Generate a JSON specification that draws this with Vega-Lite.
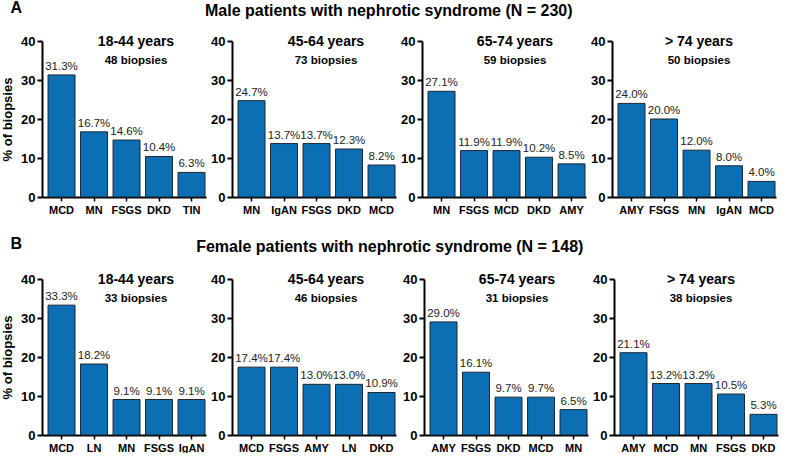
{
  "$schema": "https://vega.github.io/schema/vega-lite/v6.json",
  "padding": {"left": 1, "top": 0, "right": 2, "bottom": 0},
  "background": "white",
  "spacing": 21,
  "config": {
    "font": "Liberation Sans",
    "view": {"stroke": null},
    "title": {"color": "black", "fontWeight": "bold", "font": "Liberation Sans"},
    "axis": {"domainColor": "black", "tickColor": "black", "labelColor": "black", "titleColor": "black", "labelFont": "Liberation Sans", "titleFont": "Liberation Sans", "grid": false},
    "concat": {"spacing": 4}
  },
  "data": {"values": [
    {"p": "M1", "d": "MCD", "v": 31.3, "r": 1}, {"p": "M1", "d": "MN", "v": 16.7, "r": 2}, {"p": "M1", "d": "FSGS", "v": 14.6, "r": 3}, {"p": "M1", "d": "DKD", "v": 10.4, "r": 4}, {"p": "M1", "d": "TIN", "v": 6.3, "r": 5},
    {"p": "M2", "d": "MN", "v": 24.7, "r": 1}, {"p": "M2", "d": "IgAN", "v": 13.7, "r": 2}, {"p": "M2", "d": "FSGS", "v": 13.7, "r": 3}, {"p": "M2", "d": "DKD", "v": 12.3, "r": 4}, {"p": "M2", "d": "MCD", "v": 8.2, "r": 5},
    {"p": "M3", "d": "MN", "v": 27.1, "r": 1}, {"p": "M3", "d": "FSGS", "v": 11.9, "r": 2}, {"p": "M3", "d": "MCD", "v": 11.9, "r": 3}, {"p": "M3", "d": "DKD", "v": 10.2, "r": 4}, {"p": "M3", "d": "AMY", "v": 8.5, "r": 5},
    {"p": "M4", "d": "AMY", "v": 24.0, "r": 1}, {"p": "M4", "d": "FSGS", "v": 20.0, "r": 2}, {"p": "M4", "d": "MN", "v": 12.0, "r": 3}, {"p": "M4", "d": "IgAN", "v": 8.0, "r": 4}, {"p": "M4", "d": "MCD", "v": 4.0, "r": 5},
    {"p": "F1", "d": "MCD", "v": 33.3, "r": 1}, {"p": "F1", "d": "LN", "v": 18.2, "r": 2}, {"p": "F1", "d": "MN", "v": 9.1, "r": 3}, {"p": "F1", "d": "FSGS", "v": 9.1, "r": 4}, {"p": "F1", "d": "IgAN", "v": 9.1, "r": 5},
    {"p": "F2", "d": "MCD", "v": 17.4, "r": 1}, {"p": "F2", "d": "FSGS", "v": 17.4, "r": 2}, {"p": "F2", "d": "AMY", "v": 13.0, "r": 3}, {"p": "F2", "d": "LN", "v": 13.0, "r": 4}, {"p": "F2", "d": "DKD", "v": 10.9, "r": 5},
    {"p": "F3", "d": "AMY", "v": 29.0, "r": 1}, {"p": "F3", "d": "FSGS", "v": 16.1, "r": 2}, {"p": "F3", "d": "DKD", "v": 9.7, "r": 3}, {"p": "F3", "d": "MCD", "v": 9.7, "r": 4}, {"p": "F3", "d": "MN", "v": 6.5, "r": 5},
    {"p": "F4", "d": "AMY", "v": 21.1, "r": 1}, {"p": "F4", "d": "MCD", "v": 13.2, "r": 2}, {"p": "F4", "d": "MN", "v": 13.2, "r": 3}, {"p": "F4", "d": "FSGS", "v": 10.5, "r": 4}, {"p": "F4", "d": "DKD", "v": 5.3, "r": 5}
  ]},
  "transform": [{"calculate": "format(datum.v, '.1f') + '%'", "as": "lab"}],
  "vconcat": [
    {
      "title": {"text": "A", "anchor": "start", "frame": "bounds", "offset": -13, "dx": 9, "fontSize": 16},
      "vconcat": [{
        "title": {"text": "Male patients with nephrotic syndrome (N = 230)", "anchor": "middle", "fontSize": 16, "offset": 16},
        "hconcat": [
          {"width": 164, "height": 156, "title": {"text": "18-44 years", "subtitle": "48 biopsies", "dx": 12, "offset": -31, "fontSize": 14, "subtitleFontSize": 11.5, "subtitleFontWeight": "bold", "subtitleColor": "black", "subtitlePadding": 5.5, "anchor": "middle"},
           "transform": [{"filter": "datum.p == 'M1'"}],
           "encoding": {
             "x": {"field": "d", "type": "nominal", "sort": {"field": "r", "op": "min"}, "scale": {"paddingInner": 0.17, "paddingOuter": 0.108, "align": 0.86}, "axis": {"title": null, "labelAngle": 0, "labelFontWeight": "bold", "labelFontSize": 11, "tickSize": 4, "tickWidth": 1.5, "domainWidth": 2, "labelPadding": 3}},
             "y": {"field": "v", "type": "quantitative", "scale": {"domain": [0, 40]}, "axis": {"values": [0, 10, 20, 30, 40], "title": "% of biopsies", "titleFontSize": 13, "titleFontWeight": "bold", "titlePadding": 6, "labelFontWeight": "bold", "labelFontSize": 13, "tickSize": 5, "tickWidth": 2, "domainWidth": 2, "labelPadding": 2}}
           },
           "layer": [
             {"mark": {"type": "bar", "fill": "#0c6fb3", "stroke": "#1b2733", "strokeWidth": 1}},
             {"mark": {"type": "text", "dy": -8, "fontSize": 11.5, "color": "#222222"}, "encoding": {"text": {"field": "lab"}}}
           ]},
          {"width": 164, "height": 156, "title": {"text": "45-64 years", "subtitle": "73 biopsies", "dx": 12, "offset": -31, "fontSize": 14, "subtitleFontSize": 11.5, "subtitleFontWeight": "bold", "subtitleColor": "black", "subtitlePadding": 5.5, "anchor": "middle"},
           "transform": [{"filter": "datum.p == 'M2'"}],
           "encoding": {
             "x": {"field": "d", "type": "nominal", "sort": {"field": "r", "op": "min"}, "scale": {"paddingInner": 0.17, "paddingOuter": 0.108, "align": 0.86}, "axis": {"title": null, "labelAngle": 0, "labelFontWeight": "bold", "labelFontSize": 11, "tickSize": 4, "tickWidth": 1.5, "domainWidth": 2, "labelPadding": 3}},
             "y": {"field": "v", "type": "quantitative", "scale": {"domain": [0, 40]}, "axis": {"values": [0, 10, 20, 30, 40], "title": null, "labelFontWeight": "bold", "labelFontSize": 13, "tickSize": 5, "tickWidth": 2, "domainWidth": 2, "labelPadding": 2}}
           },
           "layer": [
             {"mark": {"type": "bar", "fill": "#0c6fb3", "stroke": "#1b2733", "strokeWidth": 1}},
             {"mark": {"type": "text", "dy": -8, "fontSize": 11.5, "color": "#222222"}, "encoding": {"text": {"field": "lab"}}}
           ]},
          {"width": 164, "height": 156, "title": {"text": "65-74 years", "subtitle": "59 biopsies", "dx": 11, "offset": -31, "fontSize": 14, "subtitleFontSize": 11.5, "subtitleFontWeight": "bold", "subtitleColor": "black", "subtitlePadding": 5.5, "anchor": "middle"},
           "transform": [{"filter": "datum.p == 'M3'"}],
           "encoding": {
             "x": {"field": "d", "type": "nominal", "sort": {"field": "r", "op": "min"}, "scale": {"paddingInner": 0.17, "paddingOuter": 0.108, "align": 0.86}, "axis": {"title": null, "labelAngle": 0, "labelFontWeight": "bold", "labelFontSize": 11, "tickSize": 4, "tickWidth": 1.5, "domainWidth": 2, "labelPadding": 3}},
             "y": {"field": "v", "type": "quantitative", "scale": {"domain": [0, 40]}, "axis": {"values": [0, 10, 20, 30, 40], "title": null, "labelFontWeight": "bold", "labelFontSize": 13, "tickSize": 5, "tickWidth": 2, "domainWidth": 2, "labelPadding": 2}}
           },
           "layer": [
             {"mark": {"type": "bar", "fill": "#0c6fb3", "stroke": "#1b2733", "strokeWidth": 1}},
             {"mark": {"type": "text", "dy": -8, "fontSize": 11.5, "color": "#222222"}, "encoding": {"text": {"field": "lab"}}}
           ]},
          {"width": 164, "height": 156, "title": {"text": "> 74 years", "subtitle": "50 biopsies", "dx": 5, "offset": -31, "fontSize": 14, "subtitleFontSize": 11.5, "subtitleFontWeight": "bold", "subtitleColor": "black", "subtitlePadding": 5.5, "anchor": "middle"},
           "transform": [{"filter": "datum.p == 'M4'"}],
           "encoding": {
             "x": {"field": "d", "type": "nominal", "sort": {"field": "r", "op": "min"}, "scale": {"paddingInner": 0.17, "paddingOuter": 0.108, "align": 0.86}, "axis": {"title": null, "labelAngle": 0, "labelFontWeight": "bold", "labelFontSize": 11, "tickSize": 4, "tickWidth": 1.5, "domainWidth": 2, "labelPadding": 3}},
             "y": {"field": "v", "type": "quantitative", "scale": {"domain": [0, 40]}, "axis": {"values": [0, 10, 20, 30, 40], "title": null, "labelFontWeight": "bold", "labelFontSize": 13, "tickSize": 5, "tickWidth": 2, "domainWidth": 2, "labelPadding": 2}}
           },
           "layer": [
             {"mark": {"type": "bar", "fill": "#0c6fb3", "stroke": "#1b2733", "strokeWidth": 1}},
             {"mark": {"type": "text", "dy": -8, "fontSize": 11.5, "color": "#222222"}, "encoding": {"text": {"field": "lab"}}}
           ]}
        ]
      }]
    },
    {
      "title": {"text": "B", "anchor": "start", "frame": "bounds", "offset": -13, "dx": 9, "fontSize": 16},
      "vconcat": [{
        "title": {"text": "Female patients with nephrotic syndrome (N = 148)", "anchor": "middle", "fontSize": 16, "offset": 18},
        "hconcat": [
          {"width": 164, "height": 156, "title": {"text": "18-44 years", "subtitle": "33 biopsies", "dx": 12, "offset": -31, "fontSize": 14, "subtitleFontSize": 11.5, "subtitleFontWeight": "bold", "subtitleColor": "black", "subtitlePadding": 5.5, "anchor": "middle"},
           "transform": [{"filter": "datum.p == 'F1'"}],
           "encoding": {
             "x": {"field": "d", "type": "nominal", "sort": {"field": "r", "op": "min"}, "scale": {"paddingInner": 0.17, "paddingOuter": 0.108, "align": 0.86}, "axis": {"title": null, "labelAngle": 0, "labelFontWeight": "bold", "labelFontSize": 11, "tickSize": 4, "tickWidth": 1.5, "domainWidth": 2, "labelPadding": 3}},
             "y": {"field": "v", "type": "quantitative", "scale": {"domain": [0, 40]}, "axis": {"values": [0, 10, 20, 30, 40], "title": "% of biopsies", "titleFontSize": 13, "titleFontWeight": "bold", "titlePadding": 6, "labelFontWeight": "bold", "labelFontSize": 13, "tickSize": 5, "tickWidth": 2, "domainWidth": 2, "labelPadding": 2}}
           },
           "layer": [
             {"mark": {"type": "bar", "fill": "#0c6fb3", "stroke": "#1b2733", "strokeWidth": 1}},
             {"mark": {"type": "text", "dy": -8, "fontSize": 11.5, "color": "#222222"}, "encoding": {"text": {"field": "lab"}}}
           ]},
          {"width": 164, "height": 156, "title": {"text": "45-64 years", "subtitle": "46 biopsies", "dx": 12, "offset": -31, "fontSize": 14, "subtitleFontSize": 11.5, "subtitleFontWeight": "bold", "subtitleColor": "black", "subtitlePadding": 5.5, "anchor": "middle"},
           "transform": [{"filter": "datum.p == 'F2'"}],
           "encoding": {
             "x": {"field": "d", "type": "nominal", "sort": {"field": "r", "op": "min"}, "scale": {"paddingInner": 0.17, "paddingOuter": 0.108, "align": 0.86}, "axis": {"title": null, "labelAngle": 0, "labelFontWeight": "bold", "labelFontSize": 11, "tickSize": 4, "tickWidth": 1.5, "domainWidth": 2, "labelPadding": 3}},
             "y": {"field": "v", "type": "quantitative", "scale": {"domain": [0, 40]}, "axis": {"values": [0, 10, 20, 30, 40], "title": null, "labelFontWeight": "bold", "labelFontSize": 13, "tickSize": 5, "tickWidth": 2, "domainWidth": 2, "labelPadding": 2}}
           },
           "layer": [
             {"mark": {"type": "bar", "fill": "#0c6fb3", "stroke": "#1b2733", "strokeWidth": 1}},
             {"mark": {"type": "text", "dy": -8, "fontSize": 11.5, "color": "#222222"}, "encoding": {"text": {"field": "lab"}}}
           ]},
          {"width": 164, "height": 156, "title": {"text": "65-74 years", "subtitle": "31 biopsies", "dx": 11, "offset": -31, "fontSize": 14, "subtitleFontSize": 11.5, "subtitleFontWeight": "bold", "subtitleColor": "black", "subtitlePadding": 5.5, "anchor": "middle"},
           "transform": [{"filter": "datum.p == 'F3'"}],
           "encoding": {
             "x": {"field": "d", "type": "nominal", "sort": {"field": "r", "op": "min"}, "scale": {"paddingInner": 0.17, "paddingOuter": 0.108, "align": 0.86}, "axis": {"title": null, "labelAngle": 0, "labelFontWeight": "bold", "labelFontSize": 11, "tickSize": 4, "tickWidth": 1.5, "domainWidth": 2, "labelPadding": 3}},
             "y": {"field": "v", "type": "quantitative", "scale": {"domain": [0, 40]}, "axis": {"values": [0, 10, 20, 30, 40], "title": null, "labelFontWeight": "bold", "labelFontSize": 13, "tickSize": 5, "tickWidth": 2, "domainWidth": 2, "labelPadding": 2}}
           },
           "layer": [
             {"mark": {"type": "bar", "fill": "#0c6fb3", "stroke": "#1b2733", "strokeWidth": 1}},
             {"mark": {"type": "text", "dy": -8, "fontSize": 11.5, "color": "#222222"}, "encoding": {"text": {"field": "lab"}}}
           ]},
          {"width": 164, "height": 156, "title": {"text": "> 74 years", "subtitle": "38 biopsies", "dx": 5, "offset": -31, "fontSize": 14, "subtitleFontSize": 11.5, "subtitleFontWeight": "bold", "subtitleColor": "black", "subtitlePadding": 5.5, "anchor": "middle"},
           "transform": [{"filter": "datum.p == 'F4'"}],
           "encoding": {
             "x": {"field": "d", "type": "nominal", "sort": {"field": "r", "op": "min"}, "scale": {"paddingInner": 0.17, "paddingOuter": 0.108, "align": 0.86}, "axis": {"title": null, "labelAngle": 0, "labelFontWeight": "bold", "labelFontSize": 11, "tickSize": 4, "tickWidth": 1.5, "domainWidth": 2, "labelPadding": 3}},
             "y": {"field": "v", "type": "quantitative", "scale": {"domain": [0, 40]}, "axis": {"values": [0, 10, 20, 30, 40], "title": null, "labelFontWeight": "bold", "labelFontSize": 13, "tickSize": 5, "tickWidth": 2, "domainWidth": 2, "labelPadding": 2}}
           },
           "layer": [
             {"mark": {"type": "bar", "fill": "#0c6fb3", "stroke": "#1b2733", "strokeWidth": 1}},
             {"mark": {"type": "text", "dy": -8, "fontSize": 11.5, "color": "#222222"}, "encoding": {"text": {"field": "lab"}}}
           ]}
        ]
      }]
    }
  ]
}
